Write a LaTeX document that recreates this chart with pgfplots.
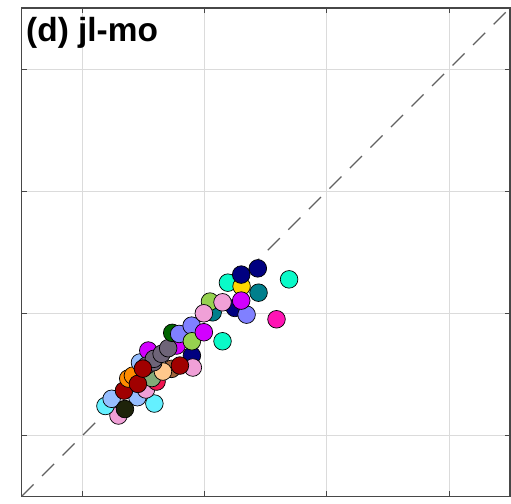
\documentclass[border=0pt]{standalone}
\usepackage{pgfplots}
\pgfplotsset{compat=1.18}
\usepackage{fontspec}
\setmainfont{Liberation Sans}
\definecolor{cnavy}{RGB}{0,0,128}
\definecolor{caqua}{RGB}{10,250,200}
\definecolor{cgold}{RGB}{255,215,0}
\definecolor{cteal}{RGB}{0,127,140}
\definecolor{cviol}{RGB}{210,0,255}
\definecolor{cpink}{RGB}{240,160,215}
\definecolor{cygreen}{RGB}{150,210,80}
\definecolor{cperi}{RGB}{128,128,255}
\definecolor{cdpink}{RGB}{255,20,180}
\definecolor{cdgreen}{RGB}{0,100,0}
\definecolor{cgray}{RGB}{110,100,120}
\definecolor{cdred}{RGB}{160,0,0}
\definecolor{clblue}{RGB}{150,190,255}
\definecolor{ccyan}{RGB}{100,240,255}
\definecolor{cpeach}{RGB}{255,200,140}
\definecolor{corange}{RGB}{255,140,0}
\definecolor{csage}{RGB}{130,170,120}
\definecolor{ccrim}{RGB}{240,20,80}
\definecolor{colive}{RGB}{30,35,10}
\definecolor{cbrown}{RGB}{160,100,60}
\pgfplotstableread{
x y c
0.794 0.663 pk
0.687 0.741 cy
0.738 0.800 lb
1.088 0.761 cy
0.949 0.813 lb
0.847 0.716 ol
1.019 0.876 pk
0.839 0.867 dr
0.874 0.966 or
0.912 0.990 or
1.106 0.941 cr
1.068 0.970 sg
0.953 0.922 dr
1.229 1.045 br
1.158 1.023 pe
0.970 1.097 lb
1.038 1.195 vi
1.395 1.154 nv
1.270 1.236 vi
1.024 1.072 gy
1.079 1.099 gy
1.084 1.127 gy
1.147 1.168 gy
1.201 1.214 gy
0.994 1.047 dr
1.403 1.056 pk
1.297 1.072 dr
1.646 1.271 aq
1.234 1.340 dg
1.291 1.331 pr
1.393 1.399 pr
1.395 1.271 yg
1.493 1.345 vi
1.565 1.508 te
1.747 1.544 nv
1.843 1.489 pr
2.088 1.451 dp
1.543 1.596 yg
1.493 1.500 pk
1.646 1.590 pk
1.690 1.751 aq
1.802 1.721 go
1.941 1.669 te
1.799 1.604 vi
1.799 1.817 nv
1.935 1.868 nv
2.191 1.778 aq
}\pts
\begin{document}
\begin{tikzpicture}
\begin{axis}[
  scale only axis, width=488bp, height=488bp,
  xmin=0, xmax=4, ymin=0, ymax=4,
  xtick={0.5,1.5,2.5,3.5}, ytick={0.5,1.5,2.5,3.5},
  xticklabels={}, yticklabels={},
  grid=major, grid style={draw=black!14, line width=0.8bp},
  axis line style={draw=black!72, line width=1.3bp},
  major tick length=5bp, tick style={draw=black!72, line width=0.8bp},
]
\addplot[draw=black!62, line width=1.3bp, dash pattern=on 17bp off 12bp] coordinates {(0,0) (4,4)};
\addplot[scatter, only marks, mark=*, mark size=8.8bp, line width=0.7bp,
  point meta=explicit symbolic,
  scatter/classes={
    nv={draw=black, fill=cnavy}, aq={draw=black, fill=caqua},
    go={draw=black, fill=cgold}, te={draw=black, fill=cteal},
    vi={draw=black, fill=cviol}, pk={draw=black, fill=cpink},
    yg={draw=black, fill=cygreen}, pr={draw=black, fill=cperi},
    dp={draw=black, fill=cdpink}, dg={draw=black, fill=cdgreen},
    gy={draw=black, fill=cgray}, dr={draw=black, fill=cdred},
    lb={draw=black, fill=clblue}, cy={draw=black, fill=ccyan},
    pe={draw=black, fill=cpeach}, or={draw=black, fill=corange},
    sg={draw=black, fill=csage}, cr={draw=black, fill=ccrim},
    ol={draw=black, fill=colive}, br={draw=black, fill=cbrown}}
] table[x=x, y=y, meta=c] {\pts};
\end{axis}
\node[anchor=base west, inner sep=0pt, font=\bfseries\fontsize{33.5}{34}\selectfont]
  at ([shift={(4.5bp,-33.7bp)}]current axis.north west) {(d) jl-mo};
\path ([shift={(-21.5bp,-3bp)}]current axis.south west) rectangle ([shift={(1bp,8bp)}]current axis.north east);
\end{tikzpicture}
\end{document}
